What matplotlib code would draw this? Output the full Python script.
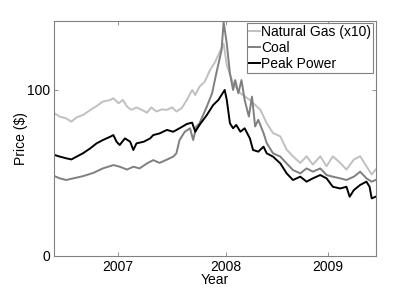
import matplotlib
matplotlib.use("Agg")
import matplotlib.pyplot as plt

plt.rcParams['font.family'] = ['Liberation Sans', 'DejaVu Sans']

# Natural gas (x10)
gas_x = [2006.40, 2006.45, 2006.51, 2006.56, 2006.61, 2006.67, 2006.74, 2006.80, 2006.86, 2006.93,
         2006.96, 2007.01, 2007.05, 2007.09, 2007.13, 2007.18, 2007.23, 2007.28, 2007.32, 2007.37,
         2007.42, 2007.47, 2007.52, 2007.56, 2007.61, 2007.66, 2007.71, 2007.74, 2007.78, 2007.83,
         2007.88, 2007.93, 2007.98, 2008.01, 2008.04, 2008.10, 2008.17, 2008.26, 2008.36, 2008.42,
         2008.48, 2008.55, 2008.61, 2008.67, 2008.74, 2008.80, 2008.86, 2008.93, 2008.99, 2009.05,
         2009.12, 2009.18, 2009.25, 2009.31, 2009.37, 2009.42, 2009.457]
gas_y = [85.9, 83.9, 82.9, 80.9, 83.5, 84.9, 87.9, 90.3, 93.0, 94.0,
         95.0, 92.0, 94.0, 90.0, 88.0, 89.5, 88.0, 86.3, 89.5, 87.0,
         88.3, 88.0, 89.5, 87.0, 89.0, 94.0, 100.0, 97.0, 102.0, 105.0,
         112.0, 117.0, 124.0, 128.0, 115.0, 104.0, 98.0, 94.0, 88.0, 80.0,
         74.0, 72.0, 64.0, 60.0, 56.0, 60.0, 55.0, 60.0, 54.0, 60.0,
         56.0, 52.0, 58.0, 60.0, 54.0, 49.0, 52.0]

# Coal
coal_x = [2006.40, 2006.45, 2006.51, 2006.58, 2006.67, 2006.77, 2006.86, 2006.96, 2007.02, 2007.09,
          2007.15, 2007.21, 2007.28, 2007.34, 2007.40, 2007.47, 2007.53, 2007.56, 2007.59, 2007.64,
          2007.69, 2007.72, 2007.75, 2007.78, 2007.85, 2007.90, 2007.94, 2007.99, 2008.01, 2008.04,
          2008.07, 2008.10, 2008.12, 2008.15, 2008.18, 2008.21, 2008.25, 2008.28, 2008.31, 2008.34,
          2008.39, 2008.42, 2008.48, 2008.55, 2008.61, 2008.67, 2008.74, 2008.80, 2008.86, 2008.93,
          2008.99, 2009.05, 2009.12, 2009.18, 2009.25, 2009.31, 2009.37, 2009.42, 2009.457]
coal_y = [48.0, 46.7, 45.7, 46.7, 48.0, 50.0, 52.7, 54.7, 53.7, 52.0,
          53.7, 52.7, 55.7, 57.7, 56.0, 58.0, 59.8, 61.8, 69.8, 74.8,
          76.9, 69.8, 77.9, 79.9, 90.0, 98.0, 110.0, 124.0, 141.0, 128.0,
          110.0, 100.0, 106.0, 98.0, 106.0, 94.0, 84.0, 96.0, 78.0, 82.0,
          74.0, 68.0, 61.8, 59.8, 55.7, 51.7, 49.7, 52.7, 50.7, 52.7,
          48.7, 47.7, 46.7, 45.7, 47.7, 50.7, 46.7, 44.7, 45.7]

# Peak power
power_x = [2006.40, 2006.45, 2006.51, 2006.56, 2006.61, 2006.67, 2006.74, 2006.80, 2006.86, 2006.93,
           2006.96, 2006.99, 2007.02, 2007.07, 2007.12, 2007.15, 2007.18, 2007.25, 2007.31, 2007.34,
           2007.40, 2007.47, 2007.53, 2007.59, 2007.66, 2007.71, 2007.74, 2007.78, 2007.85, 2007.91,
           2007.96, 2008.02, 2008.04, 2008.07, 2008.10, 2008.13, 2008.17, 2008.21, 2008.26, 2008.29,
           2008.34, 2008.39, 2008.42, 2008.48, 2008.55, 2008.61, 2008.67, 2008.74, 2008.80, 2008.86,
           2008.93, 2008.99, 2009.05, 2009.12, 2009.18, 2009.21, 2009.25, 2009.31, 2009.37, 2009.40,
           2009.42, 2009.457]
power_y = [60.8, 59.8, 58.8, 58.1, 59.8, 61.8, 64.8, 67.8, 69.8, 71.8,
           72.8, 68.8, 66.8, 70.8, 68.8, 63.8, 67.8, 68.8, 70.8, 72.8,
           73.8, 75.9, 74.8, 76.9, 79.5, 80.3, 74.8, 78.9, 84.9, 90.9,
           94.0, 100.0, 94.0, 79.9, 76.9, 78.9, 74.8, 76.9, 70.8, 63.8,
           62.8, 65.8, 61.8, 59.8, 55.7, 49.7, 45.7, 47.7, 44.7, 46.7,
           48.7, 46.7, 41.6, 40.6, 41.6, 35.6, 39.6, 42.7, 44.7, 41.6,
           34.6, 35.6]

tick_pos = [2007.0, 2008.03, 2009.0]
tick_labels = ['2007', '2008', '2009']

fig = plt.figure(figsize=(4.15, 2.88), dpi=100)
ax = fig.add_axes([0.130, 0.112, 0.775, 0.815])
ax.plot(gas_x, gas_y, color='#c0c0c0', lw=1.4, label='Natural Gas (x10)')
ax.plot(coal_x, coal_y, color='#7f7f7f', lw=1.4, label='Coal')
ax.plot(power_x, power_y, color='black', lw=1.4, label='Peak Power')

ax.set_xlim(2006.394, 2009.457)
ax.set_ylim(0, 141.6)
ax.set_xticks(tick_pos)
ax.set_xticklabels(tick_labels)
ax.set_yticks([0, 100])
ax.tick_params(direction='in', length=3, width=0.6, color='#808080',
               top=True, right=True, labelsize=10, pad=3)
for s in ax.spines.values():
    s.set_color('#808080')
    s.set_linewidth(0.8)
ax.set_xlabel('Year', fontsize=10, labelpad=-1)
ax.set_ylabel('Price ($)', fontsize=10, labelpad=-1)

leg = ax.legend(loc='upper right', fontsize=10, handlelength=0.8, handletextpad=0.1,
                borderaxespad=0.15, borderpad=0.15, labelspacing=0.12, fancybox=False,
                edgecolor='#808080', framealpha=1)
leg.get_frame().set_linewidth(0.8)

fig.savefig('out.png', dpi=100)
